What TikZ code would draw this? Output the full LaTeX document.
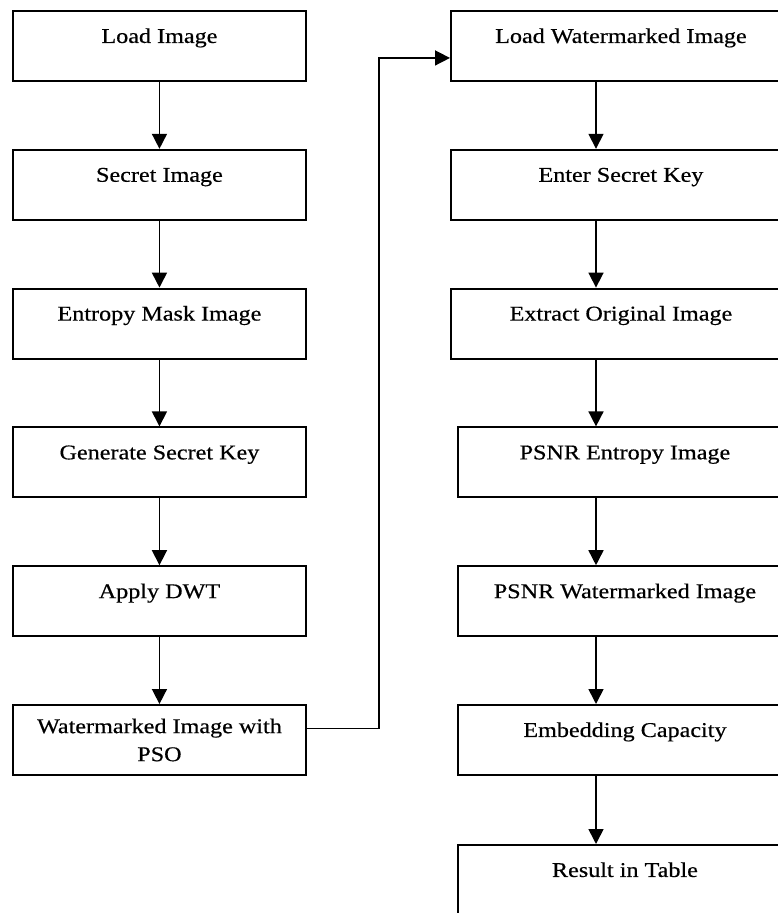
\documentclass[tikz,border=0pt]{standalone}
\usepackage{fontspec}
\setmainfont{Liberation Serif}[FakeStretch=1.15,FakeBold=0.5]
\usetikzlibrary{arrows.meta}
\begin{document}
\begin{tikzpicture}[x=1pt,y=-1pt,
  box/.style={draw, line width=1.9pt, rectangle, anchor=north west, minimum height=70pt, inner sep=0pt, font=\fontsize{21}{28}\selectfont},
  one/.style={box, text height=15pt, text depth=21pt},
  boxL/.style={one, minimum width=293pt},
  boxR/.style={one, minimum width=340pt},
  boxS/.style={one, minimum width=334pt},
  arr/.style={line width=1.6pt, -{Triangle[length=15pt,width=15pt]}}]
\useasboundingbox (0,0) rectangle (777,913);
% left column
\node[boxL] (li) at (12,10) {Load Image};
\node[boxL] (si) at (12,148.8) {Secret Image};
\node[boxL] (em) at (12,287.6) {Entropy Mask Image};
\node[boxL] (gk) at (12,426.4) {Generate Secret Key};
\node[boxL] (dwt) at (12,565.2) {Apply DWT};
\node[box, minimum width=293pt, align=center] (wm) at (12,704) {Watermarked Image with\\PSO};
% right column
\node[boxR] (lwm) at (450,10) {Load Watermarked Image};
\node[boxR] (esk) at (450,148.8) {Enter Secret Key};
\node[boxR] (eoi) at (450,287.6) {Extract Original Image};
\node[boxS] (pei) at (457,426.4) {PSNR Entropy Image};
\node[boxS] (pwi) at (457,565.2) {PSNR Watermarked Image};
\node[boxS] (ec) at (457,704) {Embedding Capacity};
\node[one, minimum width=334pt, minimum height=74pt, text depth=25pt] (rt) at (457,844) {Result in Table};
% arrows left
\draw[arr] (li.south) -- (si.north);
\draw[arr] (si.south) -- (em.north);
\draw[arr] (em.south) -- (gk.north);
\draw[arr] (gk.south) -- (dwt.north);
\draw[arr] (dwt.south) -- (wm.north);
% arrows right
\coordinate (colR) at (596,0);
\draw[arr] (lwm.south -| colR) -- (esk.north -| colR);
\draw[arr] (esk.south -| colR) -- (eoi.north -| colR);
\draw[arr] (eoi.south -| colR) -- (pei.north -| colR);
\draw[arr] (pei.south -| colR) -- (pwi.north -| colR);
\draw[arr] (pwi.south -| colR) -- (ec.north -| colR);
\draw[arr] (ec.south -| colR) -- (rt.north -| colR);
% connector
\draw[arr] ([yshift=11.5pt]wm.east) -- ++(72,0) |- ([yshift=-12pt]lwm.west);
\end{tikzpicture}
\end{document}
